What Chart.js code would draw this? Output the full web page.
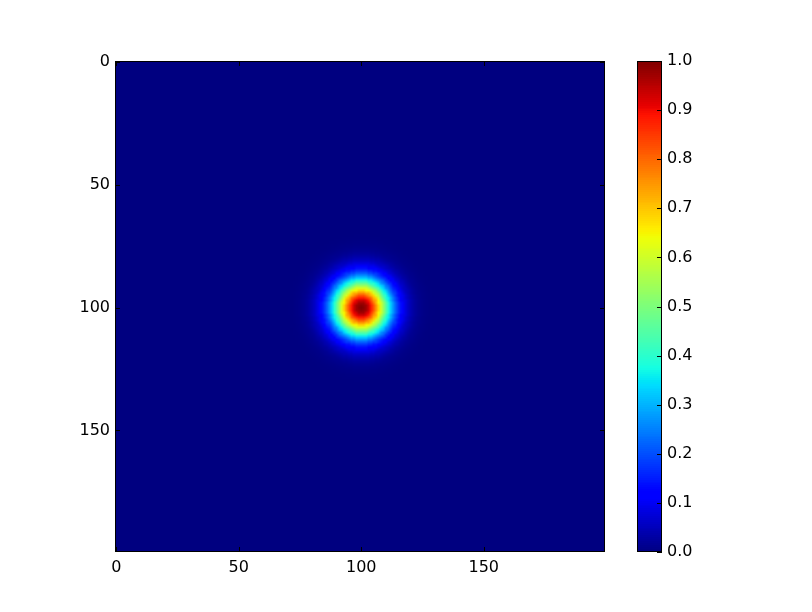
<!DOCTYPE html>
<html>
<head>
<meta charset="utf-8">
<script src="https://cdn.jsdelivr.net/npm/chart.js@4.4.1/dist/chart.umd.min.js"></script>
<style>
  html, body { margin: 0; padding: 0; background: #fff; overflow: hidden; }
  .layer { position: absolute; left: 0; top: 0; width: 812px; height: 612px; }
</style>
</head>
<body>
<div class="layer"><canvas id="heatmap"></canvas></div>
<div class="layer"><canvas id="colorbar"></canvas></div>
<script>
// Image is 200 x 200 cells, a round blob peaking at row 100, col 100
const gridSize = 200;
const peakRow = 100;
const peakCol = 100;

// Value at distance 0, 0.5, 1, ... 30 cells from the peak
const radiusStep = 0.5;
const radialProfile = [
  1.000, 0.998, 0.992, 0.983, 0.970, 0.953, 0.933, 0.910, 0.884, 0.856,
  0.825, 0.792, 0.758, 0.723, 0.686, 0.649, 0.611, 0.574, 0.536, 0.500,
  0.463, 0.428, 0.394, 0.362, 0.330, 0.301, 0.273, 0.246, 0.221, 0.198,
  0.177, 0.158, 0.140, 0.123, 0.108, 0.095, 0.083, 0.072, 0.062, 0.054,
  0.046, 0.039, 0.034, 0.029, 0.024, 0.020, 0.017, 0.014, 0.012, 0.010,
  0.008, 0.0067, 0.0055, 0.0045, 0.0037, 0.003, 0.0024, 0.0019, 0.0015, 0.0012,
  0.001
];

// Tick labels
const axisTicks = [0, 50, 100, 150];
const colorbarTicks = [0.0, 0.1, 0.2, 0.3, 0.4, 0.5, 0.6, 0.7, 0.8, 0.9, 1.0];

const tickFont = { family: "DejaVu Sans", size: 16 };
const tickLen = 5;

// matplotlib "jet" segments
const jetRed = [[0, 0], [0.35, 0], [0.66, 1], [0.89, 1], [1, 0.5]];
const jetGreen = [[0, 0], [0.125, 0], [0.375, 1], [0.64, 1], [0.91, 0], [1, 0]];
const jetBlue = [[0, 0.5], [0.11, 1], [0.34, 1], [0.65, 0], [1, 0]];

function segValue(segs, t) {
  for (let i = 0; i < segs.length - 1; i++) {
    const a = segs[i], b = segs[i + 1];
    if (t <= b[0]) return a[1] + (b[1] - a[1]) * (t - a[0]) / (b[0] - a[0]);
  }
  return segs[segs.length - 1][1];
}

function jet(t) {
  t = Math.max(0, Math.min(1, t));
  return [segValue(jetRed, t), segValue(jetGreen, t), segValue(jetBlue, t)].map(c => Math.round(c * 255));
}

function cellValue(row, col) {
  const r = Math.hypot(row - peakRow, col - peakCol);
  const idx = Math.round(r / radiusStep);
  return idx < radialProfile.length ? radialProfile[idx] : 0;
}

// cells into an offscreen image, one pixel per cell
const cells = document.createElement("canvas");
cells.width = gridSize;
cells.height = gridSize;
const cctx = cells.getContext("2d");
const img = cctx.createImageData(gridSize, gridSize);
for (let row = 0; row < gridSize; row++) {
  for (let col = 0; col < gridSize; col++) {
    const [r, g, b] = jet(cellValue(row, col));
    const k = (row * gridSize + col) * 4;
    img.data[k] = r; img.data[k + 1] = g; img.data[k + 2] = b; img.data[k + 3] = 255;
  }
}
cctx.putImageData(img, 0, 0);

const heatmapCells = {
  id: "heatmapCells",
  beforeDatasetsDraw(chart) {
    const { ctx, scales: { x, y } } = chart;
    const left = x.getPixelForValue(-0.5);
    const right = x.getPixelForValue(gridSize - 0.5);
    const top = y.getPixelForValue(-0.5);
    const bottom = y.getPixelForValue(gridSize - 0.5);
    ctx.save();
    ctx.imageSmoothingEnabled = true;
    ctx.drawImage(cells, left, top, right - left, bottom - top);
    ctx.restore();
  }
};

function drawFrame(ctx, area) {
  ctx.strokeStyle = "#000";
  ctx.lineWidth = 1;
  ctx.strokeRect(Math.round(area.left) + 0.5, Math.round(area.top) + 0.5,
    Math.round(area.right - area.left) - 1, Math.round(area.bottom - area.top) - 1);
}

const innerTicks = {
  id: "innerTicks",
  afterDraw(chart) {
    const { ctx, chartArea: a, scales: { x, y } } = chart;
    ctx.save();
    ctx.strokeStyle = "#000";
    ctx.lineWidth = 1;
    ctx.beginPath();
    axisTicks.forEach(v => {
      const px = Math.round(x.getPixelForValue(v)) + 0.5;
      ctx.moveTo(px, a.bottom); ctx.lineTo(px, a.bottom - tickLen);
      ctx.moveTo(px, a.top); ctx.lineTo(px, a.top + tickLen);
      const py = Math.round(y.getPixelForValue(v)) + 0.5;
      ctx.moveTo(a.left, py); ctx.lineTo(a.left + tickLen, py);
      ctx.moveTo(a.right, py); ctx.lineTo(a.right - tickLen, py);
    });
    ctx.stroke();
    drawFrame(ctx, a);
    ctx.restore();
  }
};

new Chart(document.getElementById("heatmap"), {
  type: "scatter",
  data: { datasets: [{ data: [], pointRadius: 0 }] },
  options: {
    animation: false,
    responsive: true,
    maintainAspectRatio: false,
    layout: { padding: { left: 0, top: 61, right: 207, bottom: 0 } },
    plugins: { legend: { display: false }, tooltip: { enabled: false } },
    scales: {
      x: {
        type: "linear",
        min: -0.5,
        max: gridSize - 0.5,
        grid: { display: false, drawTicks: false },
        border: { display: false },
        afterBuildTicks: s => { s.ticks = axisTicks.map(v => ({ value: v })); },
        afterFit: s => { s.height = 60; },
        ticks: { color: "#000", font: tickFont, padding: 6, maxRotation: 0, autoSkip: false }
      },
      y: {
        type: "linear",
        reverse: true,
        min: -0.5,
        max: gridSize - 0.5,
        grid: { display: false, drawTicks: false },
        border: { display: false },
        afterBuildTicks: s => { s.ticks = axisTicks.map(v => ({ value: v })); },
        afterFit: s => { s.width = 115; },
        ticks: { color: "#000", font: tickFont, padding: 5, autoSkip: false }
      }
    }
  },
  plugins: [heatmapCells, innerTicks]
});

// colour bar
const colorbarLevels = 256;
const colorbarFill = {
  id: "colorbarFill",
  beforeDatasetsDraw(chart) {
    const { ctx, chartArea: a, scales: { y } } = chart;
    ctx.save();
    for (let k = 0; k < colorbarLevels; k++) {
      const yTop = Math.floor(y.getPixelForValue((k + 1) / colorbarLevels));
      const yBot = Math.ceil(y.getPixelForValue(k / colorbarLevels));
      const [r, g, b] = jet((k + 0.5) / colorbarLevels);
      ctx.fillStyle = `rgb(${r},${g},${b})`;
      ctx.fillRect(a.left, yTop, a.right - a.left, yBot - yTop);
    }
    ctx.restore();
  },
  afterDraw(chart) {
    const { ctx, chartArea: a, scales: { y } } = chart;
    ctx.save();
    ctx.strokeStyle = "#000";
    ctx.lineWidth = 1;
    ctx.beginPath();
    colorbarTicks.forEach(v => {
      const py = Math.round(y.getPixelForValue(v)) + 0.5;
      ctx.moveTo(a.right, py); ctx.lineTo(a.right - tickLen, py);
    });
    ctx.stroke();
    drawFrame(ctx, a);
    ctx.restore();
  }
};

new Chart(document.getElementById("colorbar"), {
  type: "scatter",
  data: { datasets: [{ data: [], pointRadius: 0 }] },
  options: {
    animation: false,
    responsive: true,
    maintainAspectRatio: false,
    layout: { padding: { left: 637, top: 61, right: 0, bottom: 60 } },
    plugins: { legend: { display: false }, tooltip: { enabled: false } },
    scales: {
      x: { type: "linear", display: false, min: 0, max: 1 },
      y: {
        type: "linear",
        position: "right",
        min: 0,
        max: 1,
        grid: { display: false, drawTicks: false },
        border: { display: false },
        afterBuildTicks: s => { s.ticks = colorbarTicks.map(v => ({ value: v })); },
        afterFit: s => { s.width = 150; },
        ticks: { color: "#000", font: tickFont, padding: 5, autoSkip: false, callback: v => v.toFixed(1) }
      }
    }
  },
  plugins: [colorbarFill]
});
</script>
</body>
</html>
